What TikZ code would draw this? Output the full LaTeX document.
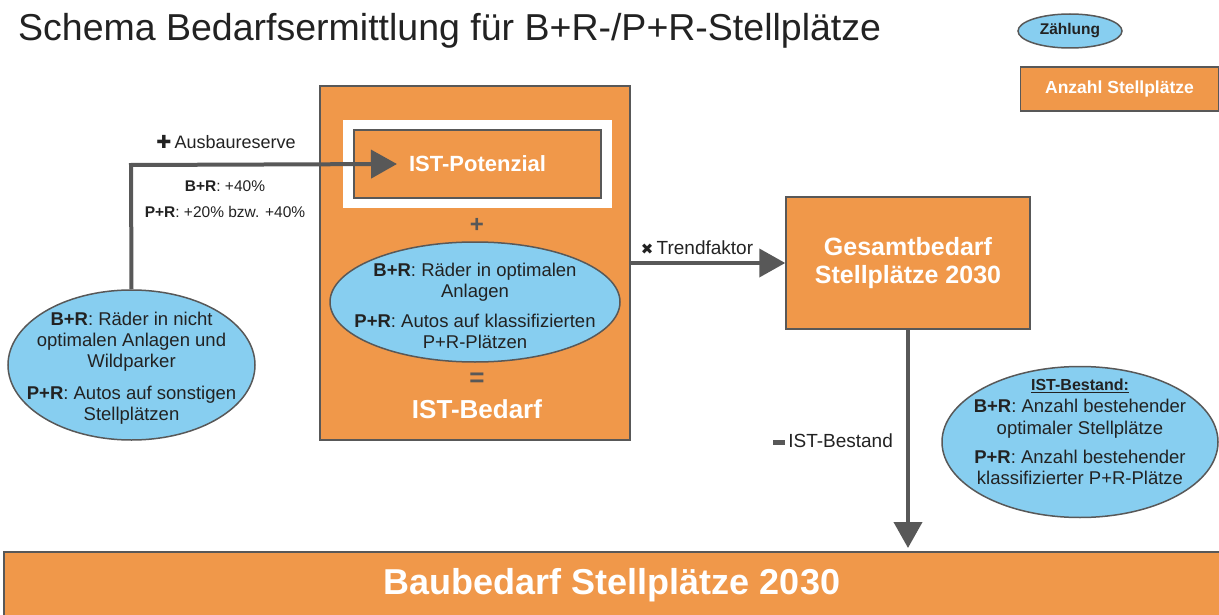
\documentclass[tikz,border=0pt]{standalone}
\usepackage{fontspec}
\setmainfont{Liberation Sans}
\newfontfamily\symfont{DejaVu Sans}
\usetikzlibrary{shapes.geometric,arrows.meta}
\definecolor{org}{HTML}{F0984A}
\definecolor{lblue}{HTML}{87CEF0}
\definecolor{dgray}{HTML}{585858}
\definecolor{txt}{HTML}{222222}
\tikzset{
  orangebox/.style={draw=dgray,line width=1.5pt,fill=org,text=white,font=\bfseries},
  blueell/.style={ellipse,draw=dgray,line width=1.5pt,fill=lblue,text=txt,inner sep=0pt,align=center},
  elltext/.style={text=txt,inner sep=0pt,align=center},
  conn/.style={draw=dgray,line width=4pt,-{Triangle[length=26pt,width=28pt]}},
  lbl/.style={text=txt,inner sep=0pt}
}
\newcommand{\fs}[1]{\fontsize{#1}{1.15\dimexpr#1pt\relax}\selectfont}
\begin{document}
\begin{tikzpicture}[x=1pt,y=-1pt]
\useasboundingbox (0,0) rectangle (1219,615);
% title
\node[lbl,anchor=west,font=\fs{37.5}] (title) at (18,31) {Schema Bedarfsermittlung für B+R-/P+R-Stellplätze};
% legend
\node[blueell,minimum width=104pt,minimum height=34pt,font=\fs{15.5}\bfseries] (leg1) at (1070,31) {Zählung};
\node[orangebox,minimum width=198pt,minimum height=44pt,font=\fs{17.5}\bfseries] (leg2) at (1119.5,89) {Anzahl Stellplätze};
% big box
\node[orangebox,minimum width=310pt,minimum height=354pt,inner sep=0pt] (big) at (475,263) {};
\fill[white] (343,120) rectangle (612,208);
\node[orangebox,minimum width=247pt,minimum height=68pt,font=\fs{22}\bfseries] (pot) at (477.5,164) {IST-Potenzial};
\node[lbl,text=dgray,font=\fs{24}\bfseries] (plus) at (477,225) {+};
\node[blueell,minimum width=290pt,minimum height=120pt] (inell) at (475,302) {};
\node[elltext,font=\fs{18.5}] (inelltxt) at (475,306)
  {\textbf{B+R}: Räder in optimalen\\ Anlagen\\[8pt] \textbf{P+R}: Autos auf klassifizierten\\ P+R-Plätzen};
\node[lbl,text=dgray,font=\fs{26}\bfseries] (eq) at (477,380) {=};
\node[lbl,text=white,font=\fs{26}\bfseries] (istb) at (477,409) {IST-Bedarf};
% left ellipse
\node[blueell,minimum width=247pt,minimum height=150pt] (left) at (131.5,365) {};
\node[elltext,font=\fs{18.5}] (lefttxt) at (131.5,368)
  {\textbf{B+R}: Räder in nicht\\ optimalen Anlagen und\\ Wildparker\\[10pt] \textbf{P+R}: Autos auf sonstigen\\ Stellplätzen};
\coordinate (corner) at (131,165);
\draw[conn] (left.north) -- (corner) -- (pot.west -| 397,0) ;
\node[lbl,font=\fs{18}] (ausb) at (226,142) {{\symfont\bfseries\fs{18}✚}\,Ausbaureserve};
\node[lbl,font=\fs{15.5}] (br40) at (225,186) {\textbf{B+R}: +40\%};
\node[lbl,font=\fs{15.5}] (pr20) at (225,212) {\textbf{P+R}: +20\% bzw. +40\%};
% Gesamtbedarf
\node[orangebox,minimum width=244pt,minimum height=132pt,font=\fs{25}\bfseries,align=center] (ges) at (908,263)
  {Gesamtbedarf\\ Stellplätze 2030};
\draw[conn] (big.east |- ges.west) -- (ges.west);
\node[lbl,font=\fs{19}] (trend) at (697,248) {{\symfont\fs{15}✖}\,Trendfaktor};
% right ellipse
\node[blueell,minimum width=276pt,minimum height=151pt] (right) at (1080,442) {};
\node[elltext,font=\fs{18.5}] (righttxt) at (1080,432)
  {{\fs{16}\bfseries\underline{IST-Bestand:}}\\[1pt] \textbf{B+R}: Anzahl bestehender\\ optimaler Stellplätze\\[8pt] \textbf{P+R}: Anzahl bestehender\\ klassifizierter P+R-Plätze};
% bottom
\node[orangebox,minimum width=1216pt,minimum height=66pt,font=\fs{36}\bfseries] (bau) at (612,585) {Baubedarf Stellplätze 2030};
\draw[conn] (ges.south) -- (ges.south |- 0,548);
\node[lbl,font=\fs{19}] (bestand) at (833,441) {\textcolor{dgray}{\rule[0.3ex]{12pt}{4.5pt}}\,IST-Bestand};
\end{tikzpicture}
\end{document}
